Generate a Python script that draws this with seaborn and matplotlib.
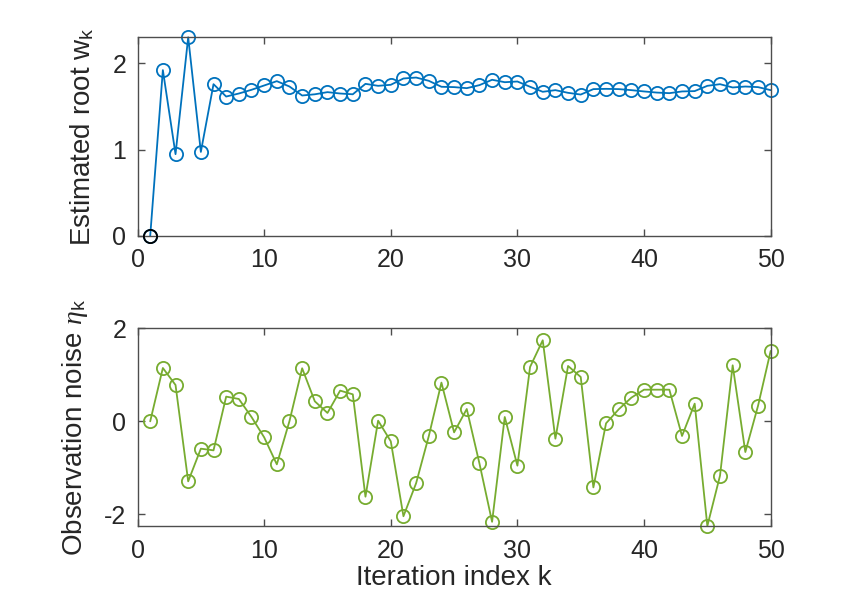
import numpy as np
import pandas as pd
import matplotlib
matplotlib.use("Agg")
import matplotlib.pyplot as plt
import seaborn as sns

sns.set_style("white")
plt.rcParams['font.family'] = ['Liberation Sans', 'DejaVu Sans']
plt.rcParams['mathtext.fontset'] = 'custom'
plt.rcParams['mathtext.rm'] = 'Liberation Sans'
plt.rcParams['mathtext.it'] = 'Liberation Serif:italic'

k = list(range(1, 51))
w_est = [0.0, 1.92, 0.947, 2.30, 0.973, 1.757, 1.614, 1.649, 1.692, 1.742,
         1.792, 1.73, 1.626, 1.64, 1.665, 1.649, 1.64, 1.761, 1.738, 1.75,
         1.823, 1.834, 1.796, 1.727, 1.723, 1.711, 1.746, 1.808, 1.78, 1.788,
         1.727, 1.669, 1.688, 1.657, 1.637, 1.70, 1.703, 1.70, 1.688, 1.673,
         1.66, 1.653, 1.673, 1.677, 1.738, 1.757, 1.719, 1.73, 1.723, 1.688]
noise = [0.0, 1.146, 0.781, -1.29, -0.588, -0.624, 0.531, 0.48, 0.093, -0.344,
         -0.925, 0.006, 1.14, 0.43, 0.18, 0.66, 0.58, -1.62, 0.014, -0.43,
         -2.04, -1.33, -0.32, 0.832, -0.237, 0.265, -0.903, -2.16, 0.093, -0.953,
         1.168, 1.742, -0.373, 1.19, 0.953, -1.42, -0.043, 0.258, 0.509, 0.68,
         0.68, 0.68, -0.315, 0.38, -2.25, -1.168, 1.204, -0.66, 0.33, 1.512]
x_ticks = [0, 10, 20, 30, 40, 50]
top_yticks = [0, 1, 2]
bot_yticks = [-2, 0, 2]

df = pd.DataFrame({"k": k, "w": w_est, "eta": noise})

blue = "#0072BD"
green = "#77AC30"
axcol = "#4d4d4d"
txtcol = "#262626"

fig = plt.figure(figsize=(8.58, 6.16), dpi=100)
ax1 = fig.add_axes([0.1603, 0.6169, 0.7379, 0.3226])
ax2 = fig.add_axes([0.1603, 0.1461, 0.7379, 0.3210])

mk = dict(marker='o', markersize=9.5, markerfacecolor='none', markeredgewidth=1.3,
          linewidth=1.3, clip_on=False)
sns.lineplot(data=df, x="k", y="w", ax=ax1, color=blue, markeredgecolor=blue, **mk)
ax1.plot([k[0]], [w_est[0]], marker='o', markersize=9.5, markerfacecolor='none',
         markeredgecolor='black', markeredgewidth=1.3, linestyle='none', clip_on=False, zorder=5)
sns.lineplot(data=df, x="k", y="eta", ax=ax2, color=green, markeredgecolor=green, **mk)

for ax in (ax1, ax2):
    ax.set_xlim(0, 50)
    ax.set_xticks(x_ticks)
    for s in ax.spines.values():
        s.set_visible(True)
        s.set_color(axcol)
        s.set_linewidth(1.0)
    ax.tick_params(direction='in', length=5, width=1.0, color=axcol, labelcolor=txtcol,
                   labelsize=18, top=True, right=True, bottom=True, left=True)
    ax.tick_params(axis='x', pad=9)
    ax.tick_params(axis='y', pad=8)

ax1.set_ylim(0, 2.30)
ax1.set_yticks(top_yticks)
ax2.set_ylim(-2.25, 2)
ax2.set_yticks(bot_yticks)
ax2.set_yticklabels(['-2', '0', '2'])

ax1.set_xlabel("")
ax1.set_ylabel(r"Estimated root w$_\mathregular{k}$", fontsize=20, color=txtcol, labelpad=12)
ax2.set_ylabel(r"Observation noise $\eta_\mathregular{k}$", fontsize=20, color=txtcol, labelpad=10)
ax2.set_xlabel("Iteration index k", fontsize=20, color=txtcol, labelpad=2)

fig.savefig("out.png", dpi=100, facecolor='white')
